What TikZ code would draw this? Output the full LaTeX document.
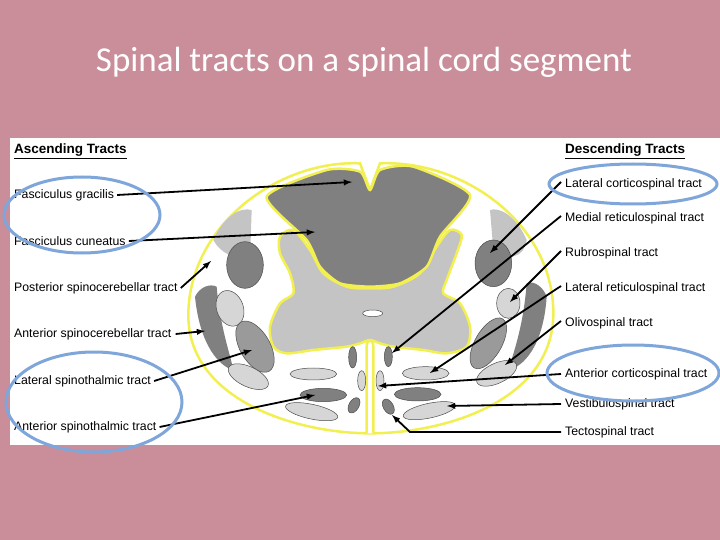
\documentclass[tikz,border=0pt]{standalone}
\usepackage{fontspec}
\setmainfont{Liberation Sans}
\newfontfamily\titlefont{Carlito}
\definecolor{slidebg}{HTML}{C98E9A}
\definecolor{ringblue}{HTML}{7FA6DB}
\definecolor{darktract}{HTML}{808080}
\definecolor{midtract}{HTML}{9A9A9A}
\definecolor{lighttract}{HTML}{D6D6D6}
\definecolor{graymatter}{HTML}{C4C4C4}
\definecolor{cordline}{HTML}{F2F050}
\begin{document}
\begin{tikzpicture}
        [x=1pt,y=-1pt,every node/.style={inner sep=0,anchor=west,font=\fontsize{12.3}{13}\selectfont},
         tract/.style={draw=black!70,line width=0.5pt},
         edge/.style={cordline,line width=2.5pt},
         pointer/.style={-latex,line width=1.8pt,black},
         ring/.style={draw=ringblue,line width=3pt}]

        \useasboundingbox[fill=slidebg] (0,0) rectangle (720,540);
        \node[anchor=center,font=\titlefont\fontsize{35}{40}\selectfont,text=white] (title) at (364,62) {Spinal tracts on a spinal cord segment};
        \fill[white] (10,138) rectangle (720,445);

        % cord, drawn in the 3x crop frame
        \begin{scope}[shift={(180,140)},scale=1/3]
          \draw[edge,fill=white] (570,880) .. controls (350,880) and (20,780) .. (25,520)
            .. controls (30,250) and (300,60) .. (540,70) -- (570,150) -- (600,70)
            .. controls (850,60) and (1120,250) .. (1120,520) .. controls (1120,780) and (800,880) .. (570,880) -- cycle;
          \fill[graymatter] (100,300) .. controls (130,230) and (180,200) .. (215,210) -- (210,360) .. controls (170,360) and (120,340) .. (100,300) -- cycle;
          \fill[graymatter] (1040,300) .. controls (1010,230) and (960,200) .. (930,210) -- (940,330) .. controls (980,360) and (1030,360) .. (1040,300) -- cycle;
          \fill[darktract] (45,470) .. controls (60,440) and (90,430) .. (110,440) .. controls (120,560) and (150,640) .. (160,690) .. controls (120,680) and (60,620) .. (45,470) -- cycle;
          \fill[darktract] (1100,470) .. controls (1090,440) and (1060,420) .. (1040,430) .. controls (1030,560) and (1000,640) .. (985,690) .. controls (1030,680) and (1090,620) .. (1100,470) -- cycle;
          \draw[edge,fill=graymatter] plot[smooth cycle,tension=0.5] coordinates {(300,290) (340,270) (390,330) (430,400) (500,440) (570,445) (640,440) (720,400) (770,320) (810,270) (845,285) (830,340) (800,420) (790,460) (840,490) (870,560) (860,620) (800,640) (730,630) (640,620) (600,610) (570,600) (540,610) (500,620) (400,630) (320,640) (280,620) (270,560) (300,490) (340,460) (330,400) (300,340)};
          \draw[edge,fill=darktract] plot[smooth cycle,tension=0.4] coordinates {(260,170) (440,90) (540,95) (570,150) (600,90) (700,80) (870,165) (780,290) (740,380) (660,430) (570,440) (480,430) (420,380) (380,300)};
          \draw[edge,fill=white] (560,880) -- (560,620) .. controls (560,595) and (580,595) .. (580,620) -- (580,880);
          \draw[tract,fill=white] (578,520) ellipse [x radius=30,y radius=10];
          % left tracts
          \draw[tract,fill=darktract] (195,375) ellipse [x radius=55,y radius=70];
          \draw[tract,fill=lighttract] (150,505) [rotate around={20:(150,505)}] ellipse [x radius=40,y radius=55];
          \draw[tract,fill=midtract] (225,620) [rotate around={30:(225,620)}] ellipse [x radius=45,y radius=85];
          \draw[tract,fill=lighttract] (205,710) [rotate around={-25:(205,710)}] ellipse [x radius=65,y radius=30];
          % middle tracts
          \draw[tract,fill=lighttract] (400,702) ellipse [x radius=70,y radius=18];
          \draw[tract,fill=darktract] (430,765) ellipse [x radius=70,y radius=20];
          \draw[tract,fill=lighttract] (395,815) [rotate around={-12:(395,815)}] ellipse [x radius=80,y radius=22];
          \draw[tract,fill=darktract] (518,652) ellipse [x radius=12,y radius=32];
          \draw[tract,fill=lighttract] (545,722) ellipse [x radius=12,y radius=30];
          \draw[tract,fill=darktract] (522,796) [rotate around={-30:(522,796)}] ellipse [x radius=15,y radius=25];
          \draw[tract,fill=darktract] (625,650) ellipse [x radius=12,y radius=30];
          \draw[tract,fill=lighttract] (600,722) ellipse [x radius=12,y radius=30];
          \draw[tract,fill=darktract] (625,800) [rotate around={30:(625,800)}] ellipse [x radius=15,y radius=25];
          \draw[tract,fill=lighttract] (737,700) ellipse [x radius=70,y radius=20];
          \draw[tract,fill=darktract] (713,763) ellipse [x radius=70,y radius=20];
          \draw[tract,fill=lighttract] (748,812) [rotate around={12:(748,812)}] ellipse [x radius=80,y radius=22];
          % right tracts
          \draw[tract,fill=darktract] (940,370) ellipse [x radius=55,y radius=70];
          \draw[tract,fill=lighttract] (985,490) ellipse [x radius=35,y radius=45];
          \draw[tract,fill=midtract] (925,610) [rotate around={-30:(925,610)}] ellipse [x radius=40,y radius=85];
          \draw[tract,fill=lighttract] (950,700) [rotate around={25:(950,700)}] ellipse [x radius=65,y radius=30];
        \end{scope}

        \node[font=\fontsize{13.5}{14}\selectfont\bfseries] (asc) at (14,151) {\underline{Ascending Tracts}};
        \node[font=\fontsize{13.5}{14}\selectfont\bfseries] (desc) at (565,151) {\underline{Descending Tracts}};

        \node (gracilis) at (14,195) {Fasciculus gracilis};
        \node (cuneatus) at (14,241) {Fasciculus cuneatus};
        \node (postsc) at (14,288) {Posterior spinocerebellar tract};
        \node (antsc) at (14,334) {Anterior spinocerebellar tract};
        \node (latst) at (14,381) {Lateral spinothalmic tract};
        \node (antst) at (14,427) {Anterior spinothalmic tract};

        \node (latcs) at (565,184) {Lateral corticospinal tract};
        \node (medrs) at (565,218) {Medial reticulospinal tract};
        \node (rubro) at (565,253) {Rubrospinal tract};
        \node (latrs) at (565,288) {Lateral reticulospinal tract};
        \node (olivo) at (565,323) {Olivospinal tract};
        \node (antcs) at (565,374) {Anterior corticospinal tract};
        \node (vesti) at (565,404) {Vestibulospinal tract};
        \node (tecto) at (565,432) {Tectospinal tract};

        \coordinate (tgr) at (352,182);
        \coordinate (tcu) at (315,232);
        \coordinate (tpsc) at (211,261);
        \coordinate (tasc) at (205,331);
        \coordinate (tlst) at (252,350);
        \coordinate (tast) at (315,395);
        \coordinate (tlcs) at (490,253);
        \coordinate (tmrs) at (392,353);
        \coordinate (trub) at (510,302);
        \coordinate (tlrs) at (430,373);
        \coordinate (toli) at (505,365);
        \coordinate (tacs) at (378,386);
        \coordinate (tves) at (447,406);
        \coordinate (ttec) at (392,415);
        \coordinate (ktec) at (410,432);

        \draw[pointer] ([xshift=3pt]gracilis.east) -- (tgr);
        \draw[pointer] ([xshift=3pt]cuneatus.east) -- (tcu);
        \draw[pointer] ([xshift=3pt]postsc.east) -- (tpsc);
        \draw[pointer] ([xshift=4pt]antsc.east) -- (tasc);
        \draw[pointer] ([xshift=3pt]latst.east) -- (tlst);
        \draw[pointer] ([xshift=3pt]antst.east) -- (tast);
        \draw[pointer] ([xshift=-4pt,yshift=2pt]latcs.west) -- (tlcs);
        \draw[pointer] ([xshift=-4pt,yshift=2pt]medrs.west) -- (tmrs);
        \draw[pointer] ([xshift=-4pt,yshift=2pt]rubro.west) -- (trub);
        \draw[pointer] ([xshift=-4pt,yshift=2pt]latrs.west) -- (tlrs);
        \draw[pointer] ([xshift=-4pt,yshift=2pt]olivo.west) -- (toli);
        \draw[pointer] ([xshift=-4pt]antcs.west) -- (tacs);
        \draw[pointer] ([xshift=-4pt]vesti.west) -- (tves);
        \draw[pointer] ([xshift=-4pt]tecto.west) -- (ktec) -- (ttec);

        % highlight rings
        \draw[ring] (82,215) ellipse [x radius=78,y radius=38];
        \draw[ring] (94,402) ellipse [x radius=88,y radius=50];
        \draw[ring] (633,184) ellipse [x radius=84,y radius=20];
        \draw[ring] (633,373) ellipse [x radius=86,y radius=28];
      \end{tikzpicture}
\end{document}
